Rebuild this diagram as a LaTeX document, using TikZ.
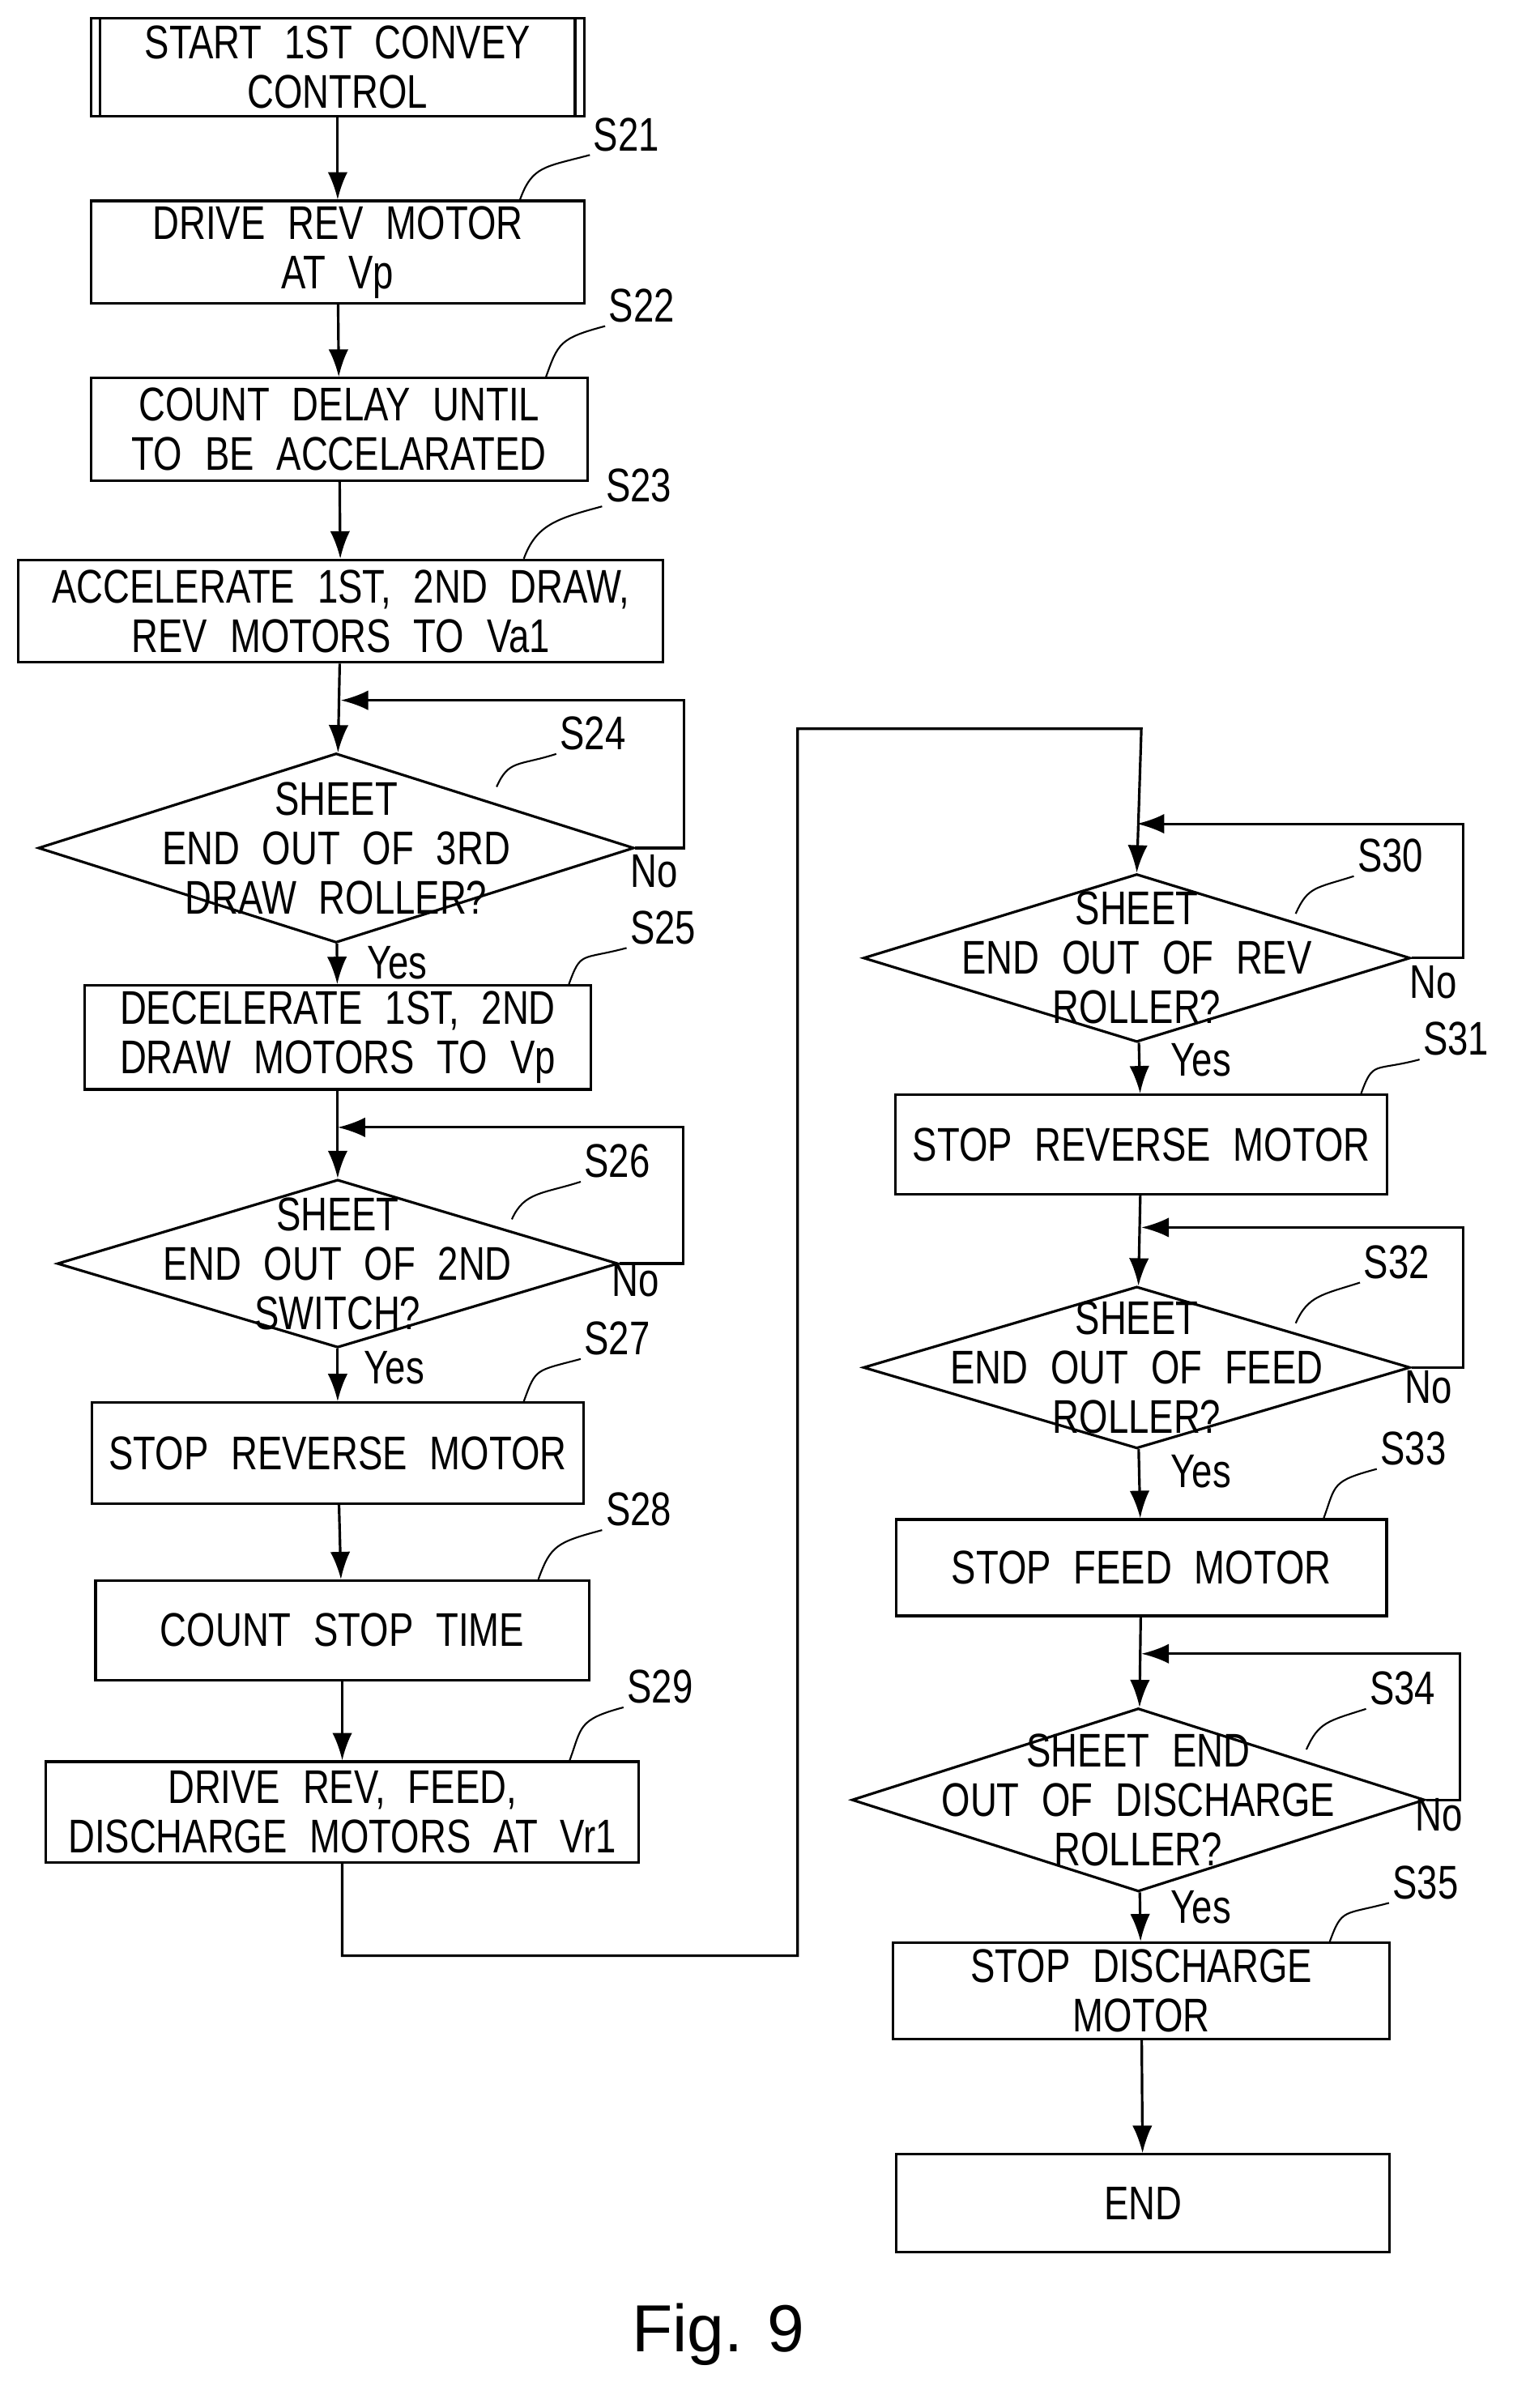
\documentclass[tikz,border=0pt]{standalone}
\usepackage{fontspec}
\setmainfont{Liberation Sans}[FakeStretch=0.78,WordSpace=2.2]
\newfontfamily\figfont{Liberation Sans}
\usetikzlibrary{shapes.geometric,calc,arrows.meta}

\tikzset{
  every node/.style={font=\fontsize{44}{46}\selectfont, align=center},
  box/.style={draw, rectangle, line width=2.4pt, inner sep=0pt},
  dec/.style={draw, diamond, line width=2.4pt, inner sep=0pt},
  arr/.style={line width=2.4pt, -{Latex[length=0.9cm,width=0.65cm]}},
  ln/.style={line width=2.4pt},
  sq/.style={line width=1.6pt},
}
\newcommand{\stp}[4]{% node, step name, label pos, start x offset
  \node (#2l) at (#3) {#2};
  \draw[sq] ($(#1.north east)+(#4,0)$) .. controls +(8,-22) and +(-30,8) .. (#2l.south west);
}

\begin{document}
\begin{tikzpicture}[x=0.05cm,y=-0.05cm]
\useasboundingbox (0,0) rectangle (990,1576);

% left column
\node[box, minimum width=16.15cm, minimum height=3.2cm] (st) at (221,44) {START 1ST CONVEY\\CONTROL};
\draw[ln] ($(st.north west)+(7,0)$) -- ($(st.south west)+(7,0)$);
\draw[ln] ($(st.north east)+(-7,0)$) -- ($(st.south east)+(-7,0)$);
\node[box, minimum width=16.15cm, minimum height=3.35cm] (S21) at (221,165) {DRIVE REV MOTOR\\AT Vp};
\node[box, minimum width=16.25cm, minimum height=3.35cm] (S22) at (222,281) {COUNT DELAY UNTIL\\TO BE ACCELARATED};
\node[box, minimum width=21.1cm, minimum height=3.35cm] (S23) at (223,400) {ACCELERATE 1ST, 2ND DRAW,\\REV MOTORS TO Va1};
\node[dec, minimum width=19.5cm, minimum height=6.2cm] (S24) at (220,555) {};
\node at (S24) {SHEET\\END OUT OF 3RD\\DRAW ROLLER?};
\node[box, minimum width=16.55cm, minimum height=3.4cm] (S25) at (221,679) {DECELERATE 1ST, 2ND\\DRAW MOTORS TO Vp};
\node[dec, minimum width=18.35cm, minimum height=5.5cm] (S26) at (221,827) {};
\node at (S26) {SHEET\\END OUT OF 2ND\\SWITCH?};
\node[box, minimum width=16.1cm, minimum height=3.3cm] (S27) at (221,951) {STOP REVERSE MOTOR};
\node[box, minimum width=16.15cm, minimum height=3.25cm] (S28) at (224,1067) {COUNT STOP TIME};
\node[box, minimum width=19.4cm, minimum height=3.3cm] (S29) at (224,1186) {DRIVE REV, FEED,\\DISCHARGE MOTORS AT Vr1};

% right column
\node[dec, minimum width=17.9cm, minimum height=5.5cm] (S30) at (744,627) {};
\node at (S30) {SHEET\\END OUT OF REV\\ROLLER?};
\node[box, minimum width=16.1cm, minimum height=3.25cm] (S31) at (747,749) {STOP REVERSE MOTOR};
\node[dec, minimum width=17.9cm, minimum height=5.3cm] (S32) at (744,895) {};
\node at (S32) {SHEET\\END OUT OF FEED\\ROLLER?};
\node[box, minimum width=16.05cm, minimum height=3.15cm] (S33) at (747,1026) {STOP FEED MOTOR};
\node[dec, minimum width=18.75cm, minimum height=6cm] (S34) at (745,1178) {};
\node at (S34) {SHEET END\\OUT OF DISCHARGE\\ROLLER?};
\node[box, minimum width=16.25cm, minimum height=3.15cm] (S35) at (747,1303) {STOP DISCHARGE\\MOTOR};
\node[box, minimum width=16.15cm, minimum height=3.2cm] (end) at (748,1442) {END};

\node[font=\figfont\fontsize{62}{66}\selectfont] (fig) at (470,1528) {Fig. 9};

% step labels
\stp{S21}{S21}{410,88}{-43}
\stp{S22}{S22}{420,200}{-28}
\stp{S23}{S23}{418,318}{-92}
\node (S24l) at (388,480) {S24};
\draw[sq] (325,515) .. controls +(8,-18) and +(-25,8) .. (S24l.south west);
\stp{S25}{S25}{434,607}{-15}
\node (S26l) at (404,760) {S26};
\draw[sq] (335,798) .. controls +(8,-18) and +(-25,8) .. (S26l.south west);
\stp{S27}{S27}{404,876}{-40}
\stp{S28}{S28}{418,988}{-34}
\stp{S29}{S29}{432,1104}{-46}
\node (S30l) at (910,560) {S30};
\draw[sq] (848,598) .. controls +(8,-18) and +(-25,8) .. (S30l.south west);
\stp{S31}{S31}{953,680}{-18}
\node (S32l) at (914,826) {S32};
\draw[sq] (848,866) .. controls +(8,-18) and +(-25,8) .. (S32l.south west);
\stp{S33}{S33}{925,948}{-42}
\node (S34l) at (918,1105) {S34};
\draw[sq] (855,1145) .. controls +(8,-18) and +(-25,8) .. (S34l.south west);
\stp{S35}{S35}{933,1232}{-40}

% connectors
\draw[arr] (st) -- (S21);
\draw[arr] (S21) -- (S22);
\draw[arr] (S22) -- (S23);
\draw[arr] (S23) -- (S24);
\draw[arr] (S24.east) -- ++(32,0) |- ($(S23.south)+(0,24)$);
\draw[arr] (S24) -- (S25);
\draw[arr] (S25) -- (S26);
\draw[arr] (S26.east) -- ++(42,0) |- ($(S25.south)+(0,24)$);
\draw[arr] (S26) -- (S27);
\draw[arr] (S27) -- (S28);
\draw[arr] (S28) -- (S29);
\draw[arr] (S29.south) |- (522,1280) |- (747,477) -- (S30.north);
\draw[arr] (S30.east) -- ++(34,0) |- ($(S30.north)+(0,-32)$);
\draw[arr] (S30) -- (S31);
\draw[arr] (S31) -- (S32);
\draw[arr] (S32.east) -- ++(34,0) |- ($(S31.south)+(0,21)$);
\draw[arr] (S32) -- (S33);
\draw[arr] (S33) -- (S34);
\draw[arr] (S34.east) -- ++(22,0) |- ($(S33.south)+(0,24)$);
\draw[arr] (S34) -- (S35);
\draw[arr] (S35) -- (end);

% yes / no
\node (y24) at (260,630) {Yes};
\node (n24) at (428,570) {No};
\node (y26) at (258,895) {Yes};
\node (n26) at (416,838) {No};
\node (y30) at (786,694) {Yes};
\node (n30) at (938,643) {No};
\node (y32) at (786,963) {Yes};
\node (n32) at (935,908) {No};
\node (y34) at (786,1248) {Yes};
\node (n34) at (942,1188) {No};
\end{tikzpicture}
\end{document}
